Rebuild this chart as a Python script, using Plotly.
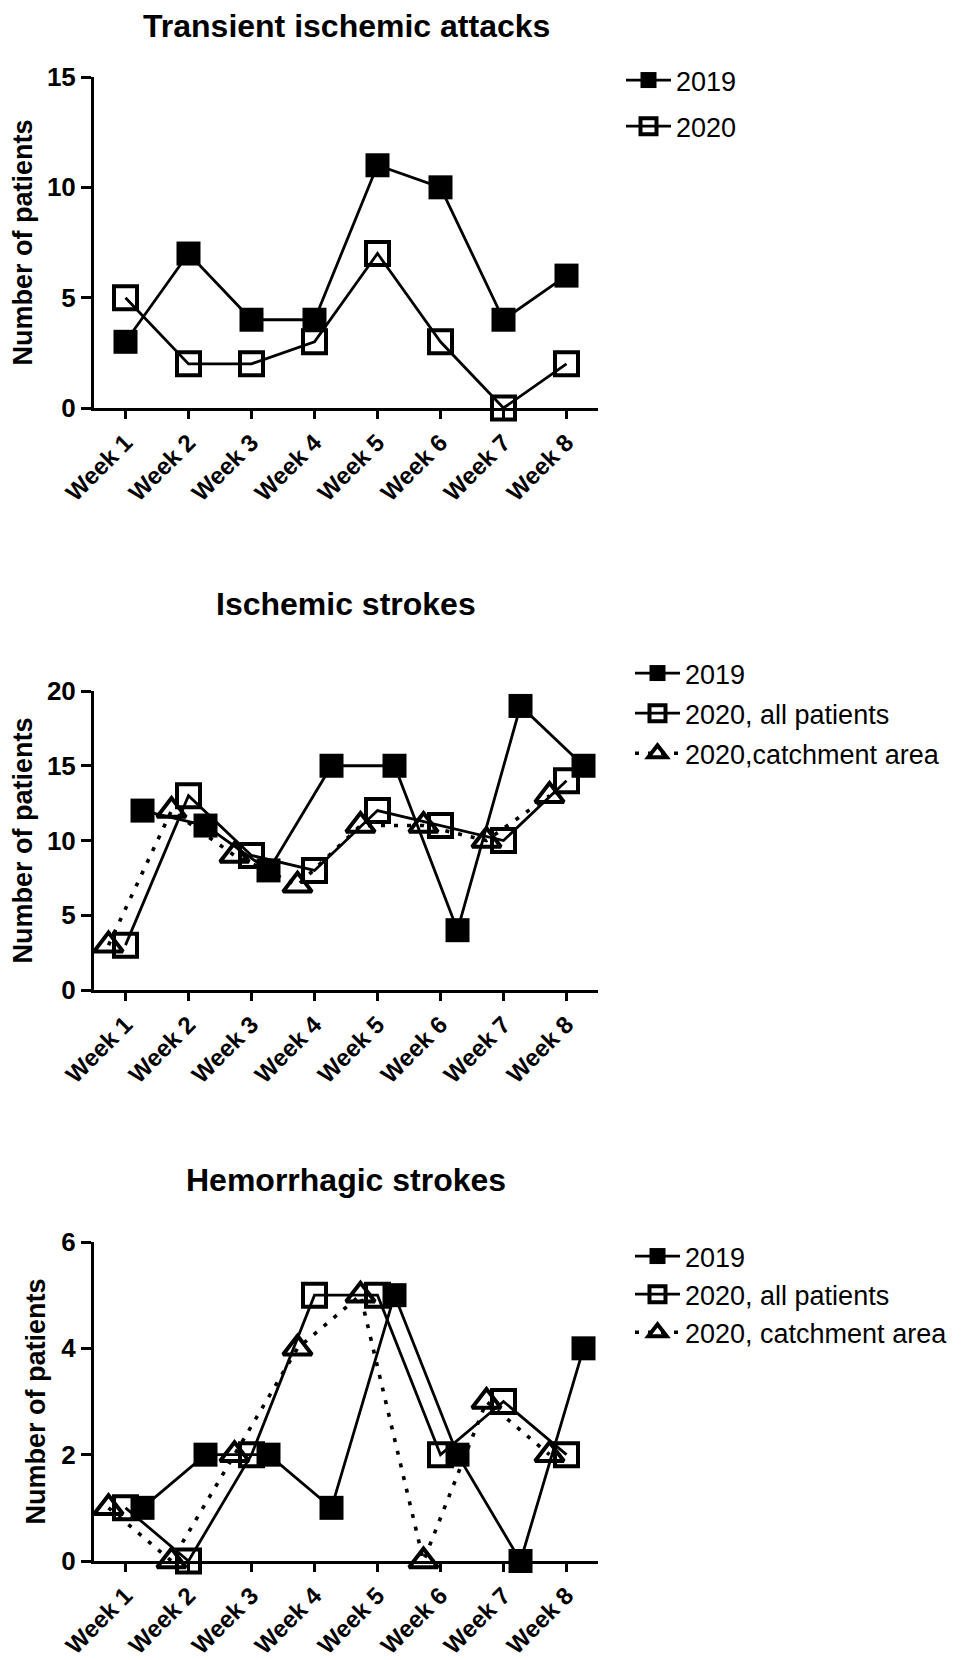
import plotly.graph_objects as go

weeks = ["Week 1", "Week 2", "Week 3", "Week 4", "Week 5", "Week 6", "Week 7", "Week 8"]

# Transient ischemic attacks
tia_2019 = [3, 7, 4, 4, 11, 10, 4, 6]
tia_2020 = [5, 2, 2, 3, 7, 3, 0, 2]

# Ischemic strokes
is_2019 = [12, 11, 8, 15, 15, 4, 19, 15]
is_2020_all = [3, 13, 9, 8, 12, 11, 10, 14]
is_2020_catch = [3, 12, 9, 7, 11, 11, 10, 13]

# Hemorrhagic strokes
hs_2019 = [1, 2, 2, 1, 5, 2, 0, 4]
hs_2020_all = [1, 0, 2, 5, 5, 2, 3, 2]
hs_2020_catch = [1, 0, 2, 4, 5, 0, 3, 2]

titles = ["Transient ischemic attacks", "Ischemic strokes", "Hemorrhagic strokes"]
y_max = [15, 20, 6]
y_step = [5, 5, 2]

FONT = "Liberation Sans, Arial, sans-serif"
W, H = 975, 1660

# panel pixel geometry (top, bottom) of plot areas
panels_px = [(69, 400), (683, 982), (1234, 1553)]
title_px = [18, 596, 1172]
legend_top_px = [48, 641, 1224]
legend_gap = [8, 2, 0]
legend_x_px = [613, 622, 622]
x_left_px, x_right_px = 86, 590

fig = go.Figure()

def xs(n, off):
    return [i + 1 + off for i in range(n)]

STY = {
    "2019": dict(symbol="square", color="black", line=dict(color="black", width=0), size=24),
    "all": dict(symbol="square-open", color="black", line=dict(color="black", width=4), size=23),
    "catch": dict(symbol="triangle-up-open", color="black", line=dict(color="black", width=4), size=25),
}

def add(y, name, kind, panel, off, dash="solid", lw=2.8):
    ax = "" if panel == 1 else str(panel)
    fig.add_trace(go.Scatter(
        x=xs(len(y), off), y=y, name=name, mode="lines+markers",
        line=dict(color="black", width=lw, dash=dash),
        marker=STY[kind], cliponaxis=False,
        xaxis="x" + ax, yaxis="y" + ax,
        legend="legend" + ax, legendgroup=name + ax,
    ))

add(tia_2019, "2019", "2019", 1, 0.0)
add(tia_2020, "2020", "all", 1, 0.0)

add(is_2019, "2019", "2019", 2, 0.27)
add(is_2020_all, "2020, all patients", "all", 2, 0.0)
add(is_2020_catch, "2020,catchment area", "catch", 2, -0.27, dash="4px,9px", lw=3.6)

add(hs_2019, "2019", "2019", 3, 0.27)
add(hs_2020_all, "2020, all patients", "all", 3, 0.0)
add(hs_2020_catch, "2020, catchment area", "catch", 3, -0.27, dash="4px,9px", lw=3.6)

layout = dict(
    width=W, height=H,
    margin=dict(l=0, r=0, t=0, b=0),
    paper_bgcolor="white", plot_bgcolor="white",
    font=dict(family=FONT, color="black"),
    showlegend=True,
)

annotations = []
for k in range(3):
    top, bot = panels_px[k]
    ax = "" if k == 0 else str(k + 1)
    dom_y = [1 - bot / H, 1 - top / H]
    dom_x = [x_left_px / W, x_right_px / W]
    layout["xaxis" + ax] = dict(
        domain=dom_x, anchor="y" + ax, range=[0.5, 8.5],
        tickvals=list(range(1, 9)), ticktext=weeks, tickangle=-45,
        showline=True, linecolor="black", linewidth=3,
        ticks="outside", ticklen=8, tickwidth=3, tickcolor="black",
        tickfont=dict(family=FONT, size=24, weight="bold"),
        showgrid=False, zeroline=False, automargin=False,
    )
    layout["yaxis" + ax] = dict(
        domain=dom_y, anchor="x" + ax, range=[0, y_max[k]],
        tickvals=list(range(0, y_max[k] + 1, y_step[k])),
        showline=True, linecolor="black", linewidth=3,
        ticks="outside", ticklen=10, tickwidth=3, tickcolor="black",
        tickfont=dict(family=FONT, size=26, weight="bold"),
        title=dict(text="Number of patients", standoff=8,
                   font=dict(family=FONT, size=27, weight="bold")),
        showgrid=False, zeroline=False, automargin=False,
    )
    annotations.append(dict(
        text=titles[k], xref="paper", yref="paper",
        x=(x_left_px + x_right_px) / 2 / W, y=1 - title_px[k] / H,
        xanchor="center", yanchor="middle", showarrow=False,
        font=dict(family=FONT, size=32, weight="bold"),
    ))
    layout["legend" + ax] = dict(
        x=legend_x_px[k] / W, y=1 - legend_top_px[k] / H, xanchor="left", yanchor="top",
        font=dict(family=FONT, size=27, color="black"),
        bgcolor="rgba(0,0,0,0)", tracegroupgap=legend_gap[k], itemwidth=45,
    )

layout["annotations"] = annotations
fig.update_layout(**layout)
fig.write_html("out.html")
